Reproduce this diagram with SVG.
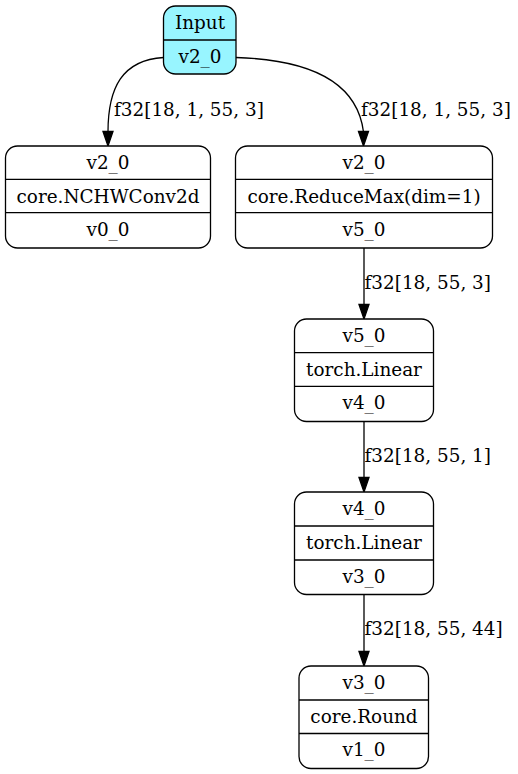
<svg xmlns="http://www.w3.org/2000/svg" width="518" height="774" viewBox="0 0 518 774">
<defs>
<style>
.box{fill:#fff;stroke:#000;stroke-width:1.3}
.div{stroke:#000;stroke-width:1.3}
.t{font-family:"DejaVu Serif",serif;font-size:18.4px;text-anchor:middle;fill:#000}
.l{font-family:"DejaVu Serif",serif;font-size:18.4px;fill:#000}
.e{fill:none;stroke:#000;stroke-width:1.3}
.ah{fill:#000;stroke:#000;stroke-width:1.3}
</style>
</defs>
<rect width="518" height="774" fill="#fff"/>
<g id="connectors">
<path class="e" d="M163.5,57.5 C122,60 108,88 108,132" />
<path class="ah" d="M103,131.5 L108,146 L113,131.5 Z"/>
<text class="l" x="114" y="116">f32[18, 1, 55, 3]</text>
<path class="e" d="M236,57.5 C320,60 358,88 363.5,132" />
<path class="ah" d="M358.5,131.5 L363.5,146 L368.5,131.5 Z"/>
<text class="l" x="361" y="116">f32[18, 1, 55, 3]</text>
<path class="e" d="M364,248 L364,305" />
<path class="ah" d="M359,304.5 L364,319 L369,304.5 Z"/>
<text class="l" x="364.5" y="289">f32[18, 55, 3]</text>
<path class="e" d="M364,421.5 L364,478" />
<path class="ah" d="M359,477.5 L364,492 L369,477.5 Z"/>
<text class="l" x="364.5" y="462">f32[18, 55, 1]</text>
<path class="e" d="M364,594.5 L364,652" />
<path class="ah" d="M359,651.5 L364,666 L369,651.5 Z"/>
<text class="l" x="364.5" y="635">f32[18, 55, 44]</text>
</g>
<g id="input">
<rect x="163.5" y="6" width="72.5" height="68" rx="12" fill="#98f5ff" stroke="#000" stroke-width="1.3"/>
<line class="div" x1="163.5" y1="40" x2="236" y2="40"/>
<text class="t" x="200" y="29">Input</text>
<text class="t" x="200" y="63">v2_0</text>
</g>
<g id="conv">
<rect class="box" x="5.5" y="146" width="205" height="102" rx="12"/>
<line class="div" x1="5.5" y1="179.3" x2="210.5" y2="179.3"/>
<line class="div" x1="5.5" y1="212.6" x2="210.5" y2="212.6"/>
<text class="t" x="108" y="169">v2_0</text>
<text class="t" x="108" y="202.5">core.NCHWConv2d</text>
<text class="t" x="108" y="236">v0_0</text>
</g>
<g id="reducemax">
<rect class="box" x="235.5" y="146" width="257" height="102" rx="12"/>
<line class="div" x1="235.5" y1="179.3" x2="492.5" y2="179.3"/>
<line class="div" x1="235.5" y1="212.6" x2="492.5" y2="212.6"/>
<text class="t" x="364" y="169">v2_0</text>
<text class="t" x="364" y="202.5">core.ReduceMax(dim=1)</text>
<text class="t" x="364" y="236">v5_0</text>
</g>
<g id="linear1">
<rect class="box" x="294.5" y="319" width="139" height="102.5" rx="12"/>
<line class="div" x1="294.5" y1="352.7" x2="433.5" y2="352.7"/>
<line class="div" x1="294.5" y1="386.3" x2="433.5" y2="386.3"/>
<text class="t" x="364" y="342">v5_0</text>
<text class="t" x="364" y="375.5">torch.Linear</text>
<text class="t" x="364" y="409">v4_0</text>
</g>
<g id="linear2">
<rect class="box" x="294.5" y="492" width="139" height="102.5" rx="12"/>
<line class="div" x1="294.5" y1="526" x2="433.5" y2="526"/>
<line class="div" x1="294.5" y1="560" x2="433.5" y2="560"/>
<text class="t" x="364" y="515">v4_0</text>
<text class="t" x="364" y="549">torch.Linear</text>
<text class="t" x="364" y="582.5">v3_0</text>
</g>
<g id="round">
<rect class="box" x="299" y="666" width="129.5" height="102.5" rx="12"/>
<line class="div" x1="299" y1="700" x2="428.5" y2="700"/>
<line class="div" x1="299" y1="733.5" x2="428.5" y2="733.5"/>
<text class="t" x="364" y="689">v3_0</text>
<text class="t" x="364" y="722.5">core.Round</text>
<text class="t" x="364" y="756">v1_0</text>
</g>
</svg>
